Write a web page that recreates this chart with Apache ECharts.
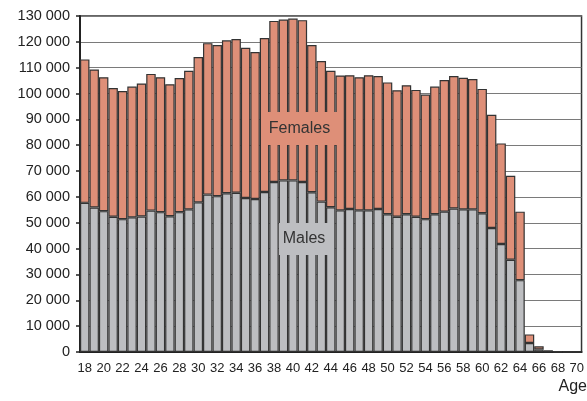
<!DOCTYPE html>
<html>
<head>
<meta charset="utf-8">
<script src="https://cdn.jsdelivr.net/npm/echarts@6/dist/echarts.min.js"></script>
<style>
  html, body { margin: 0; padding: 0; background: #fff; }
  #chart { width: 587px; height: 401px; }
</style>
</head>
<body>
<div id="chart"></div>
<script>
// ages 18..70
const ages = [18, 19, 20, 21, 22, 23, 24, 25, 26, 27, 28, 29, 30, 31, 32, 33, 34, 35, 36, 37, 38, 39, 40, 41, 42, 43, 44,
  45, 46, 47, 48, 49, 50, 51, 52, 53, 54, 55, 56, 57, 58, 59, 60, 61, 62, 63, 64, 65, 66, 67, 68, 69, 70];

const males = [57700, 55900, 54500, 52300, 51400, 52100, 52400, 54700, 54100, 52500, 54100, 55200, 57900, 60900, 60300,
  61400, 61600, 59600, 59200, 61900, 65800, 66400, 66400, 65800, 61800, 58200, 56000, 54800, 55300, 54800, 54800, 55300,
  53300, 52300, 53300, 52300, 51400, 53300, 54300, 55500, 55200, 55200, 53700, 48000, 41800, 35700, 27800, 3500, 1000,
  300, 100, 50, 50];

const females = [55500, 53400, 51800, 49800, 49600, 50600, 51500, 52900, 52200, 51100, 51900, 53600, 56200, 58600, 58500,
  59200, 59500, 58100, 56900, 59600, 62300, 62200, 62600, 62600, 57000, 54400, 52800, 52200, 51800, 51500, 52300, 51500,
  51000, 49000, 49900, 49100, 48200, 49400, 50900, 51300, 50900, 50400, 48100, 43800, 38900, 32500, 26500, 3300, 1200,
  200, 100, 50, 50];

const font = 'Liberation Sans, Arial, sans-serif';

const chart = echarts.init(document.getElementById('chart'));
const option = {
  animation: false,
  grid: {
    left: 80,
    right: 2,
    top: 16,
    bottom: 49,
    show: true,
    borderColor: '#333',
    borderWidth: 1.5,
  },
  xAxis: {
    type: 'category',
    data: ages,
    axisLine: { lineStyle: { color: '#222', width: 2 } },
    axisTick: { show: false },
    axisLabel: {
      interval: 1,
      color: '#222',
      fontFamily: font,
      fontSize: 13,
      margin: 10,
    },
  },
  yAxis: {
    type: 'value',
    min: 0,
    max: 130000,
    interval: 10000,
    axisLine: { show: true, lineStyle: { color: '#222', width: 2 } },
    axisTick: { show: true, length: 4, lineStyle: { color: '#222', width: 1.5 } },
    axisLabel: {
      color: '#222',
      fontFamily: font,
      fontSize: 14.5,
      margin: 10,
      formatter: (v) => String(v).replace(/\B(?=(\d{3})+(?!\d))/g, ' '),
    },
    splitLine: { lineStyle: { color: '#7a7a7a', width: 1 } },
  },
  series: [
    {
      name: 'Males',
      type: 'bar',
      stack: 'total',
      data: males,
      barCategoryGap: '0%',
      itemStyle: { color: '#bdbec1', borderColor: '#333', borderWidth: 1.2 },
    },
    {
      name: 'Females',
      type: 'bar',
      stack: 'total',
      data: females,
      barCategoryGap: '0%',
      itemStyle: { color: '#de8f78', borderColor: '#333', borderWidth: 1.2 },
    },
  ],
  graphic: [
    {
      type: 'rect',
      shape: { x: 261, y: 112, width: 77, height: 33 },
      style: { fill: '#de8f78' },
      z: 100,
    },
    {
      type: 'text',
      x: 299.5,
      y: 128.5,
      style: {
        text: 'Females',
        fill: '#333',
        font: '16px ' + font,
        align: 'center',
        verticalAlign: 'middle',
      },
      z: 101,
    },
    {
      type: 'rect',
      shape: { x: 279, y: 223, width: 50, height: 32 },
      style: { fill: '#bdbec1' },
      z: 100,
    },
    {
      type: 'text',
      x: 304,
      y: 239,
      style: {
        text: 'Males',
        fill: '#333',
        font: '16px ' + font,
        align: 'center',
        verticalAlign: 'middle',
      },
      z: 101,
    },
    {
      type: 'text',
      right: 0,
      top: 379,
      style: {
        text: 'Age',
        fill: '#222',
        font: '16px ' + font,
      },
    },
  ],
};
chart.setOption(option);
</script>
</body>
</html>
